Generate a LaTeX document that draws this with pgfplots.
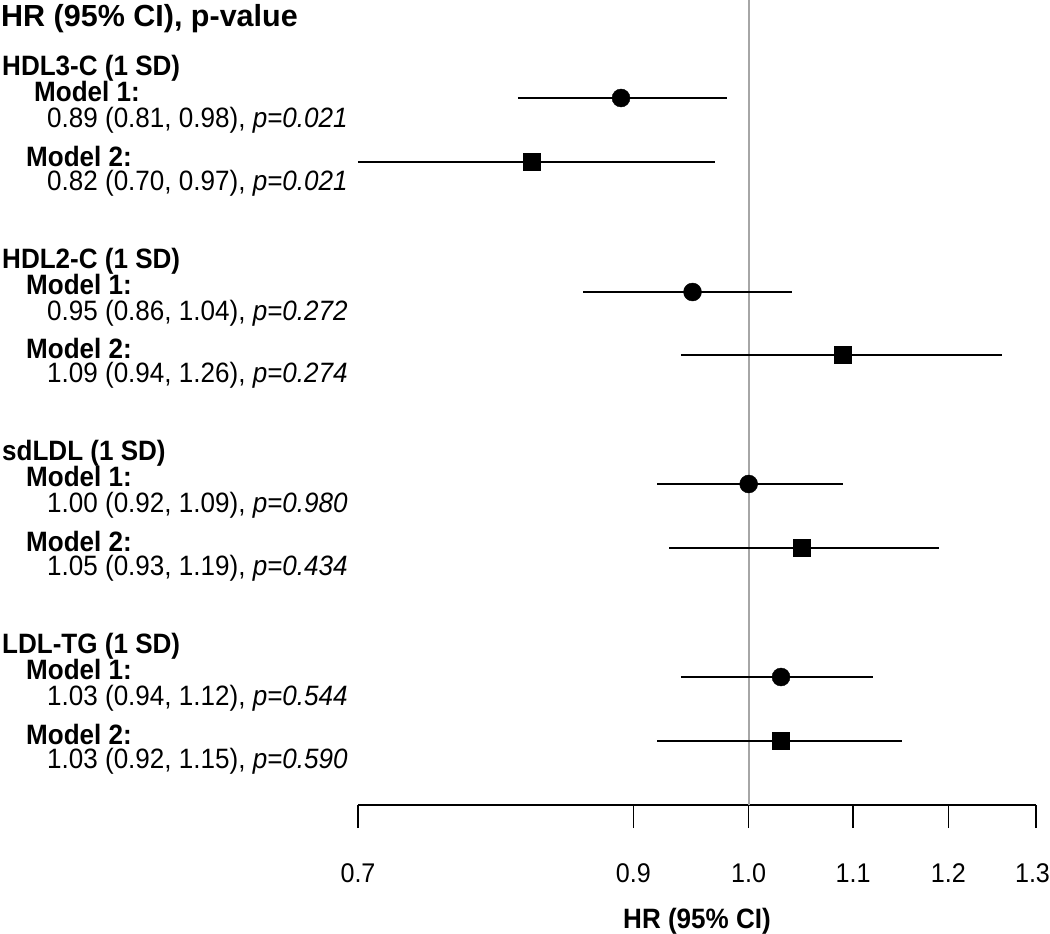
\documentclass[border=0pt]{standalone}
\usepackage{fontspec}
\setmainfont{Liberation Sans}
\newfontfamily\cond{Liberation Sans}[FakeStretch=0.93]
\usepackage{pgfplots}
\pgfplotsset{compat=1.18}
\newcommand{\fs}{\cond\fontsize{28}{32}\selectfont}
\begin{document}
\begin{tikzpicture}
\path[use as bounding box] (0,0) rectangle (1050pt,-934pt);
\begin{axis}[
  at={(358pt,-805pt)}, anchor=south west,
  scale only axis, width=678pt, height=805pt,
  xmode=log, xmin=0.7, xmax=1.3, ymin=0, ymax=805,
  axis x line*=bottom, axis y line=none,
  xtick={0.7,0.9,1.0,1.1,1.2,1.3},
  xticklabels={0.7,0.9,1.0,1.1,1.2,\hspace*{-7pt}1.3},
  minor xtick={},
  xtick align=outside, major tick length=23pt,
  tick style={black, line width=1.5pt},
  axis line style={line width=1.5pt},
  xticklabel style={font=\cond\fontsize{27}{30}\selectfont, anchor=base, yshift=-54pt},
  xlabel={\textbf{HR (95\% CI)}},
  xlabel style={font=\fs, at={(axis description cs:0.5,0)}, anchor=base, yshift=-123pt},
  clip=false,
]
% reference line at HR = 1
\addplot[color=black!35, line width=2pt] coordinates {(1,0) (1,805)};
% confidence intervals (lower, upper) at row position
\addplot[black, line width=1.6pt] coordinates {(0.81,707) (0.98,707)};
\addplot[black, line width=1.6pt] coordinates {(0.70,643) (0.97,643)};
\addplot[black, line width=1.6pt] coordinates {(0.86,513) (1.04,513)};
\addplot[black, line width=1.6pt] coordinates {(0.94,450) (1.26,450)};
\addplot[black, line width=1.6pt] coordinates {(0.92,321) (1.09,321)};
\addplot[black, line width=1.6pt] coordinates {(0.93,257) (1.19,257)};
\addplot[black, line width=1.6pt] coordinates {(0.94,128) (1.12,128)};
\addplot[black, line width=1.6pt] coordinates {(0.92,64) (1.15,64)};
% Model 1 point estimates
\addplot[only marks, mark=*, mark size=9pt, black] coordinates {(0.89,707) (0.95,513) (1.00,321) (1.03,128)};
% Model 2 point estimates
\addplot[only marks, mark=square*, mark size=8.5pt, black] coordinates {(0.82,643) (1.09,450) (1.05,257) (1.03,64)};
\end{axis}
\begin{scope}[x=1pt,y=-1pt, every node/.style={anchor=base west, inner sep=0pt, font=\fs}]
\node[font=\bfseries\fontsize{30.5}{34}\selectfont] at (1,27) {HR (95\% CI), p-value};
% HDL3-C
\node[font=\fs\bfseries] at (2,75) {HDL3-C (1 SD)};
\node[font=\fs\bfseries] at (34,101) {Model 1:};
\node at (47,127) {0.89 (0.81, 0.98), \textit{p=0.021}};
\node[font=\fs\bfseries] at (26,166) {Model 2:};
\node at (47,190) {0.82 (0.70, 0.97), \textit{p=0.021}};
% HDL2-C
\node[font=\fs\bfseries] at (2,268) {HDL2-C (1 SD)};
\node[font=\fs\bfseries] at (26,294) {Model 1:};
\node at (47,320) {0.95 (0.86, 1.04), \textit{p=0.272}};
\node[font=\fs\bfseries] at (26,358) {Model 2:};
\node at (47,382) {1.09 (0.94, 1.26), \textit{p=0.274}};
% sdLDL
\node[font=\fs\bfseries] at (2,460) {sdLDL (1 SD)};
\node[font=\fs\bfseries] at (26,486) {Model 1:};
\node at (47,512) {1.00 (0.92, 1.09), \textit{p=0.980}};
\node[font=\fs\bfseries] at (26,551) {Model 2:};
\node at (47,575) {1.05 (0.93, 1.19), \textit{p=0.434}};
% LDL-TG
\node[font=\fs\bfseries] at (2,653) {LDL-TG (1 SD)};
\node[font=\fs\bfseries] at (26,679) {Model 1:};
\node at (47,705) {1.03 (0.94, 1.12), \textit{p=0.544}};
\node[font=\fs\bfseries] at (26,744) {Model 2:};
\node at (47,768) {1.03 (0.92, 1.15), \textit{p=0.590}};
\end{scope}
\end{tikzpicture}
\end{document}
